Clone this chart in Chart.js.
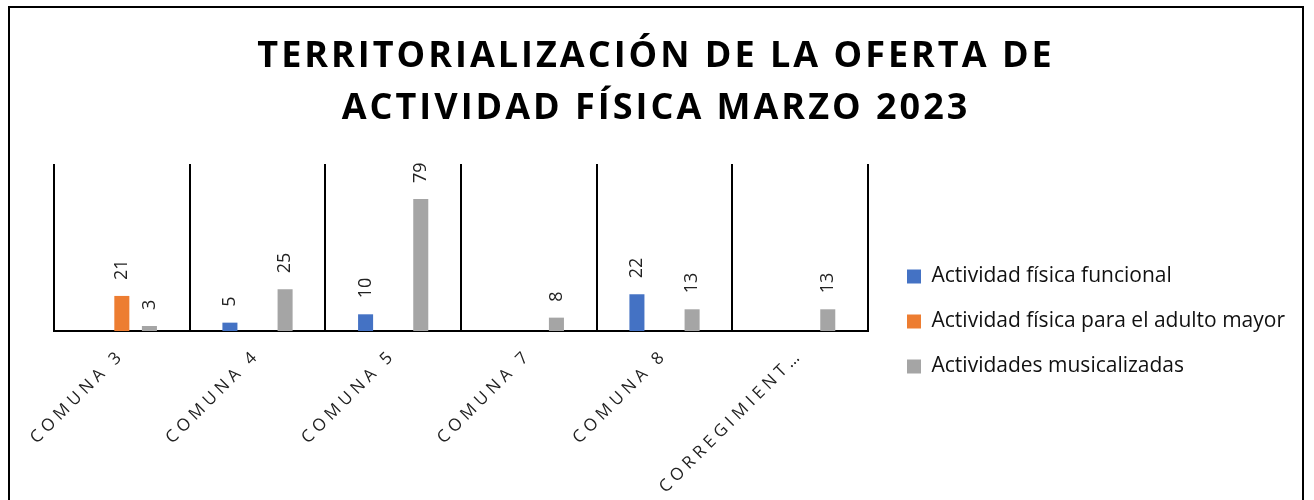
<!DOCTYPE html>
<html>
<head>
<meta charset="utf-8">
<script src="https://cdn.jsdelivr.net/npm/chart.js@4.4.1/dist/chart.umd.min.js"></script>
<style>
  html, body { margin: 0; background: #fff; overflow: hidden; }
  .frame { position: absolute; left: 8px; top: 6px; width: 1292px; height: 510px; border: 2px solid #000; }
  .chart-box { position: relative; width: 1292px; height: 492px; }
</style>
</head>
<body>
<div class="frame"><div class="chart-box"><canvas id="chart"></canvas></div></div>
<script>
const title_lines = ["TERRITORIALIZACIÓN DE LA OFERTA DE", "ACTIVIDAD FÍSICA MARZO 2023"];
const categories = ["COMUNA 3", "COMUNA 4", "COMUNA 5", "COMUNA 7", "COMUNA 8", "CORREGIMIENT…"];
const series_names = [
  "Actividad física funcional",
  "Actividad física para el adulto mayor",
  "Actividades musicalizadas",
];
const funcional = [null, 5, 10, null, 22, null];
const adulto_mayor = [21, null, null, null, null, null];
const musicalizadas = [3, 25, 79, 8, 13, 13];
const colors = ["#4472C4", "#ED7D31", "#A5A5A5"];

const font_family = "'Open Sans', 'Noto Sans', sans-serif";

// canvas has no letter-spacing option in Chart.js, so wrap the draw calls
function spaced(obj, fn, amount) {
  if (!obj || obj["_spaced_" + fn]) return;
  const orig = obj[fn];
  obj[fn] = function (...args) {
    this.ctx.save();
    this.ctx.letterSpacing = amount;
    orig.apply(this, args);
    this.ctx.restore();
  };
  obj["_spaced_" + fn] = true;
}

const tweaks = {
  id: "tweaks",
  afterLayout(chart) {
    spaced(chart.titleBlock, "draw", "3px");
    spaced(chart.scales.x, "drawLabels", "4.5px");
    // title centred over the whole frame, not only the padded area
    const tb = chart.titleBlock;
    if (tb) {
      tb.left = 0;
      tb.right = chart.width;
      tb.width = chart.width;
    }
    // legend sits lower and a little further right than Chart.js puts it
    const lg = chart.legend;
    if (lg) {
      lg.left += 15;
      lg.right += 15;
      lg.top += 234;
      lg.bottom += 234;
    }
  },
};

const bar_labels = {
  id: "bar_labels",
  afterDatasetsDraw(chart) {
    const ctx = chart.ctx;
    ctx.save();
    ctx.font = "18px " + font_family;
    ctx.fillStyle = "#222";
    ctx.textAlign = "left";
    ctx.textBaseline = "middle";
    chart.data.datasets.forEach((ds, i) => {
      chart.getDatasetMeta(i).data.forEach((bar, j) => {
        const v = ds.data[j];
        if (v == null) return;
        ctx.save();
        ctx.translate(bar.x, bar.y - 16);
        ctx.rotate(-Math.PI / 2);
        ctx.fillText(String(v), 0, 0);
        ctx.restore();
      });
    });
    ctx.restore();
  },
};

function draw() {
  new Chart(document.getElementById("chart"), {
    type: "bar",
    data: {
      labels: categories,
      datasets: [funcional, adulto_mayor, musicalizadas].map((values, i) => ({
        label: series_names[i],
        data: values,
        backgroundColor: colors[i],
        barPercentage: 0.545,
        categoryPercentage: 0.61,
      })),
    },
    plugins: [tweaks, bar_labels],
    options: {
      responsive: true,
      maintainAspectRatio: false,
      animation: false,
      layout: { padding: { left: 44, right: 22, top: 0, bottom: 0 } },
      plugins: {
        title: {
          display: true,
          text: title_lines,
          color: "#000",
          font: { family: font_family, size: 36, weight: "bold", lineHeight: 52 / 36 },
          padding: { top: 23, bottom: 29 },
        },
        legend: {
          position: "right",
          align: "start",
          labels: {
            boxWidth: 14,
            boxHeight: 14,
            padding: 24,
            color: "#111",
            font: { family: font_family, size: 21 },
          },
        },
        tooltip: { enabled: false },
      },
      scales: {
        x: {
          offset: true,
          grid: { color: "#000", lineWidth: 2, drawTicks: false, offset: true },
          border: { color: "#000", width: 2 },
          ticks: {
            autoSkip: false,
            minRotation: 45,
            maxRotation: 45,
            padding: 14,
            color: "#222",
            font: { family: font_family, size: 17 },
          },
          afterFit: (scale) => {
            scale.height = 169;
          },
        },
        y: { display: false, min: 0, max: 100 },
      },
    },
  });
}

Promise.all([
  document.fonts.load("bold 36px 'Open Sans'"),
  document.fonts.load("21px 'Open Sans'"),
]).then(draw, draw);
</script>
</body>
</html>
